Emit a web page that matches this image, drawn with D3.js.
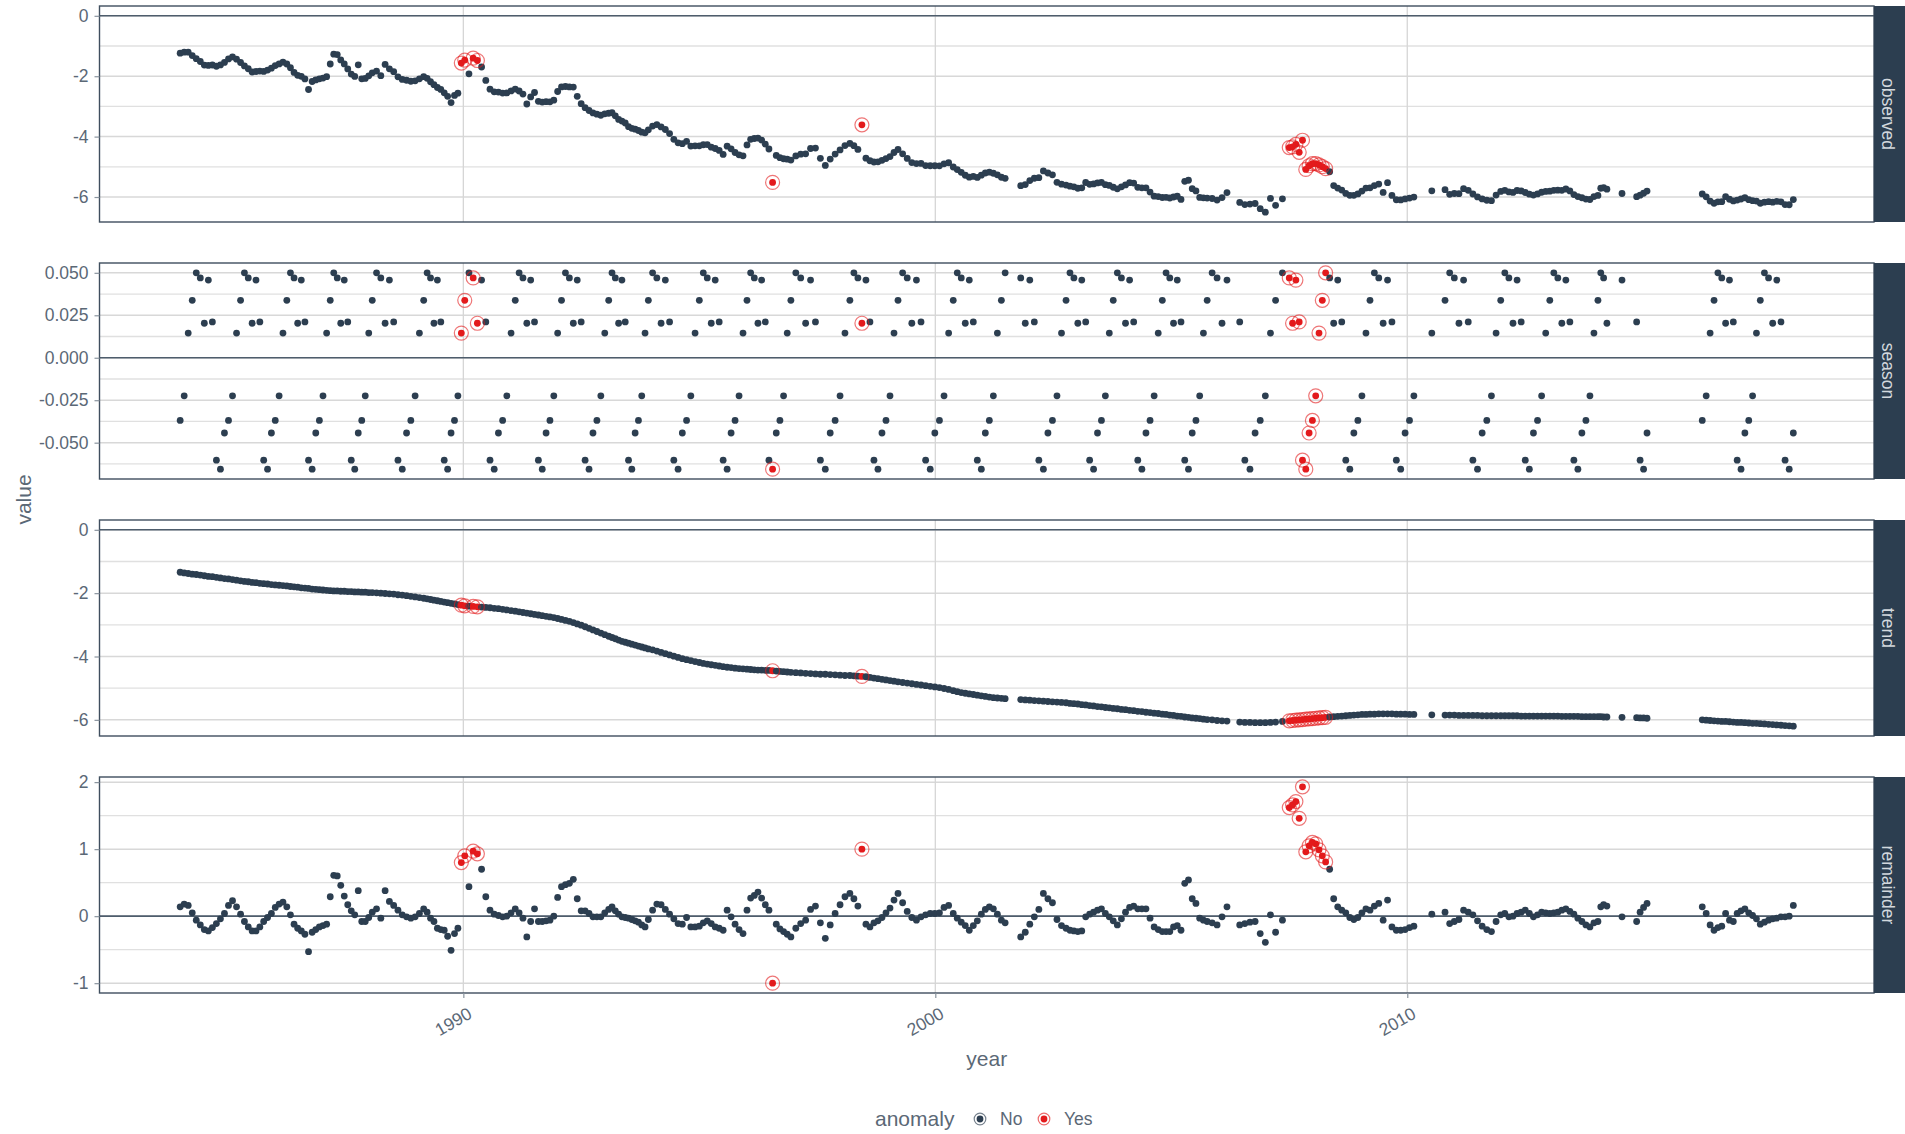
<!DOCTYPE html>
<html>
<head>
<meta charset="utf-8">
<script src="https://cdn.jsdelivr.net/npm/d3@7"></script>
<style>
  html, body { margin: 0; padding: 0; background: #ffffff; }
  text { font-family: "Liberation Sans", Arial, sans-serif; }
</style>
</head>
<body>
<svg id="chart" width="1905" height="1134"></svg>
<script>
// ---- sampling dates: rows between two knots are evenly spaced in time ----
const knotRow  = [0, 15, 27, 39, 51, 63, 75, 87, 99, 111, 123, 135, 147, 159, 171, 183, 195, 207, 208, 209,
                  219, 231, 243, 255, 259, 260, 267, 269, 280, 291, 301, 302, 303, 315, 327, 339, 340, 341,
                  342, 343, 344, 347, 348, 351, 363, 371];
const knotYear = [1984.00, 1985.28, 1986.26, 1987.18, 1988.07, 1989.16, 1990.03, 1991.10, 1992.08, 1993.08,
                  1993.92, 1995.00, 1996.01, 1996.94, 1998.19, 1999.21, 2000.38, 2001.40, 2001.48, 2001.81,
                  2002.77, 2003.77, 2004.81, 2005.76, 2006.18, 2006.45, 2007.21, 2007.50, 2008.27, 2009.21,
                  2010.14, 2010.52, 2010.80, 2011.98, 2013.02, 2014.04, 2014.10, 2014.16, 2014.23, 2014.55,
                  2014.86, 2015.08, 2016.25, 2016.50, 2017.48, 2018.18];

// ---- seasonal component: one value per position in the 12-step cycle ----
const seasonCycle = [-0.0369, -0.0224, 0.0145, 0.0338, 0.0500, 0.0470, 0.0203, 0.0457, 0.0211, -0.0603, -0.0656, -0.0443];

// ---- trend component, one value per row ----
const trendValues = [
  -1.34,-1.36,-1.38,-1.40,-1.41,-1.43,-1.45,-1.47,-1.48,-1.50,-1.52,-1.54,
  -1.55,-1.57,-1.59,-1.61,-1.63,-1.64,-1.66,-1.67,-1.69,-1.70,-1.71,-1.73,
  -1.74,-1.75,-1.76,-1.77,-1.79,-1.80,-1.81,-1.83,-1.84,-1.85,-1.87,-1.88,
  -1.89,-1.90,-1.91,-1.92,-1.93,-1.93,-1.94,-1.94,-1.95,-1.95,-1.96,-1.96,
  -1.97,-1.97,-1.98,-1.98,-1.99,-2.00,-2.01,-2.02,-2.03,-2.05,-2.06,-2.08,
  -2.10,-2.12,-2.14,-2.16,-2.18,-2.20,-2.22,-2.24,-2.26,-2.28,-2.30,-2.32,
  -2.34,-2.36,-2.38,-2.40,-2.41,-2.42,-2.43,-2.44,-2.45,-2.46,-2.48,-2.49,
  -2.51,-2.53,-2.55,-2.57,-2.59,-2.61,-2.63,-2.65,-2.67,-2.69,-2.71,-2.73,
  -2.75,-2.77,-2.80,-2.83,-2.86,-2.89,-2.93,-2.97,-3.01,-3.06,-3.11,-3.16,
  -3.21,-3.26,-3.31,-3.36,-3.40,-3.44,-3.48,-3.52,-3.55,-3.58,-3.61,-3.64,
  -3.67,-3.70,-3.73,-3.76,-3.79,-3.83,-3.87,-3.91,-3.95,-3.99,-4.03,-4.07,
  -4.10,-4.13,-4.16,-4.19,-4.22,-4.24,-4.26,-4.28,-4.30,-4.32,-4.34,-4.35,
  -4.37,-4.38,-4.39,-4.40,-4.41,-4.42,-4.43,-4.43,-4.44,-4.44,-4.45,-4.46,
  -4.47,-4.48,-4.49,-4.50,-4.51,-4.52,-4.53,-4.54,-4.55,-4.56,-4.56,-4.57,
  -4.58,-4.59,-4.60,-4.60,-4.61,-4.62,-4.63,-4.64,-4.66,-4.68,-4.70,-4.72,
  -4.74,-4.76,-4.78,-4.80,-4.82,-4.84,-4.86,-4.88,-4.90,-4.92,-4.94,-4.96,
  -4.98,-5.01,-5.04,-5.08,-5.11,-5.14,-5.16,-5.18,-5.20,-5.22,-5.24,-5.26,
  -5.28,-5.30,-5.31,-5.32,-5.33,-5.36,-5.37,-5.38,-5.39,-5.40,-5.41,-5.42,
  -5.43,-5.44,-5.45,-5.46,-5.48,-5.49,-5.50,-5.52,-5.53,-5.55,-5.56,-5.58,
  -5.59,-5.61,-5.62,-5.64,-5.65,-5.67,-5.68,-5.70,-5.71,-5.73,-5.74,-5.76,
  -5.77,-5.79,-5.80,-5.82,-5.83,-5.85,-5.86,-5.88,-5.89,-5.91,-5.92,-5.94,
  -5.95,-5.96,-5.98,-5.99,-6.00,-6.02,-6.03,-6.04,-6.07,-6.08,-6.08,-6.09,
  -6.09,-6.09,-6.08,-6.07,-6.05,-6.03,-6.02,-6.01,-6.00,-5.99,-5.98,-5.97,
  -5.96,-5.95,-5.94,-5.93,-5.92,-5.91,-5.90,-5.89,-5.88,-5.87,-5.86,-5.85,
  -5.84,-5.83,-5.83,-5.82,-5.82,-5.81,-5.81,-5.81,-5.81,-5.82,-5.82,-5.82,
  -5.83,-5.83,-5.84,-5.85,-5.85,-5.85,-5.86,-5.86,-5.86,-5.86,-5.86,-5.87,
  -5.87,-5.87,-5.87,-5.87,-5.87,-5.87,-5.87,-5.87,-5.88,-5.88,-5.88,-5.88,
  -5.88,-5.88,-5.88,-5.88,-5.88,-5.88,-5.89,-5.89,-5.89,-5.89,-5.89,-5.90,
  -5.90,-5.90,-5.90,-5.90,-5.90,-5.91,-5.91,-5.92,-5.93,-5.94,-5.94,-5.95,
  -6.00,-6.01,-6.02,-6.03,-6.04,-6.05,-6.05,-6.06,-6.07,-6.08,-6.08,-6.09,
  -6.10,-6.11,-6.11,-6.12,-6.13,-6.14,-6.15,-6.16,-6.17,-6.18,-6.19,-6.20
];

// ---- remainder component, one value per row ----
const remainderValues = [
   0.14, 0.18, 0.16, 0.05,-0.06,-0.13,-0.20,-0.22,-0.17,-0.11,-0.04, 0.04,
   0.16, 0.23, 0.14, 0.03,-0.08,-0.16,-0.22,-0.22,-0.16,-0.08,-0.02, 0.04,
   0.13, 0.18, 0.21, 0.14, 0.02,-0.12,-0.18,-0.22,-0.27,-0.53,-0.24,-0.20,
  -0.16,-0.14,-0.12, 0.29, 0.61, 0.60, 0.46, 0.30, 0.17, 0.08, 0.02, 0.38,
  -0.08,-0.08,-0.02, 0.06, 0.11,-0.03, 0.38, 0.22, 0.16, 0.09, 0.02,-0.01,
  -0.03,-0.01, 0.04, 0.11, 0.06,-0.03,-0.08,-0.18,-0.20,-0.21,-0.30,-0.51,
  -0.26,-0.18, 0.80, 0.90, 0.44, 0.97, 0.93, 0.70, 0.29, 0.09, 0.03, 0.01,
  -0.01, 0.00, 0.05, 0.11, 0.05,-0.03,-0.31,-0.08, 0.11,-0.08,-0.08,-0.07,
  -0.06, 0.00, 0.28, 0.44, 0.47, 0.49, 0.55, 0.26, 0.08, 0.08, 0.04,-0.01,
  -0.01,-0.01, 0.05, 0.10, 0.14, 0.08, 0.03,-0.01,-0.02,-0.03,-0.05,-0.07,
  -0.09,-0.13,-0.16,-0.05, 0.09, 0.18, 0.17, 0.10, 0.03,-0.04,-0.11,-0.12,
  -0.02,-0.16,-0.16,-0.15,-0.10,-0.07,-0.11,-0.16,-0.18,-0.21, 0.09,-0.01,
  -0.12,-0.20,-0.26, 0.09, 0.27, 0.31, 0.36, 0.27, 0.17, 0.09,-1.00,-0.12,
  -0.19,-0.23,-0.27,-0.31,-0.18,-0.11,-0.06, 0.10, 0.15,-0.10,-0.33,-0.13,
   0.04, 0.17, 0.29, 0.34, 0.26, 0.15, 1.00,-0.12,-0.16,-0.10,-0.07,-0.02,
   0.05, 0.12, 0.24, 0.34, 0.20, 0.07,-0.02,-0.06,-0.01, 0.02, 0.04, 0.04,
   0.05, 0.13, 0.16, 0.04,-0.03,-0.09,-0.14,-0.21,-0.14,-0.07, 0.03, 0.10,
   0.14, 0.11, 0.03,-0.06,-0.10,-0.31,-0.24,-0.12,-0.01, 0.10, 0.34, 0.26,
   0.20,-0.05,-0.14,-0.18,-0.21,-0.22,-0.23,-0.22,-0.01, 0.03, 0.06, 0.09,
   0.11, 0.04,-0.01,-0.07,-0.13,-0.04, 0.06, 0.13, 0.15, 0.11, 0.11, 0.11,
  -0.03,-0.16,-0.20,-0.23,-0.23,-0.23,-0.16,-0.14,-0.21, 0.49, 0.54, 0.26,
   0.19,-0.03,-0.06,-0.08,-0.10,-0.13,-0.01, 0.14,-0.13,-0.11,-0.09,-0.08,
  -0.26,-0.39, 0.02,-0.24,-0.06, 1.62, 1.66, 1.71, 1.46, 1.93, 0.96, 1.05,
   1.10, 1.08, 0.99, 0.90, 0.81, 0.70, 0.26, 0.14, 0.09, 0.05,-0.02,-0.05,
  -0.02, 0.05, 0.11, 0.09, 0.15, 0.19,-0.06, 0.24,-0.16,-0.21,-0.21,-0.20,
  -0.17,-0.15, 0.03, 0.06,-0.11,-0.08,-0.05, 0.09, 0.06, 0.02,-0.07,-0.15,
  -0.20,-0.23,-0.08, 0.02, 0.04,-0.01, 0.00, 0.04, 0.06, 0.09, 0.04,-0.01,
   0.02, 0.06, 0.05, 0.04, 0.05, 0.06, 0.09, 0.11, 0.07, 0.03,-0.03,-0.08,
  -0.13,-0.16,-0.10,-0.08, 0.14, 0.17, 0.15,-0.01,-0.08, 0.06, 0.13, 0.19,
   0.14, 0.04,-0.13,-0.21,-0.17,-0.15, 0.04,-0.06,-0.08, 0.04, 0.08, 0.11,
   0.05, 0.01,-0.04,-0.12,-0.09,-0.06,-0.04,-0.03,-0.01,-0.01, 0.00, 0.16
];

// ---- rows flagged as anomalies ----
const anomalyRows = [74, 75, 77, 78, 154, 174, 269, 270, 271, 272, 273, 274, 275, 276, 277, 278, 279, 280];

// ---- facets and axis ticks ----
const facetNames = ["observed", "season", "trend", "remainder"];
const observedTicks  = [0, -2, -4, -6];
const observedMinor  = [-1, -3, -5];
const seasonTicks    = [0.05, 0.025, 0, -0.025, -0.05];
const seasonMinor    = [0.0375, 0.0125, -0.0125, -0.0375, -0.0625];
const trendTicks     = [0, -2, -4, -6];
const trendMinor     = [-1, -3, -5];
const remainderTicks = [2, 1, 0, -1];
const remainderMinor = [1.5, 0.5, -0.5];
const yearTicks      = [1990, 2000, 2010];
const legendLevels   = ["No", "Yes"];

// ---- assemble the decomposition table ----
const dateOfRow = d3.scaleLinear().domain(knotRow).range(knotYear);
const anomalySet = new Set(anomalyRows);
const rows = trendValues.map((t, i) => {
  const season = seasonCycle[i % seasonCycle.length];
  const remainder = remainderValues[i];
  return {
    year: dateOfRow(i),
    season: season,
    trend: t,
    remainder: remainder,
    observed: t + season + remainder,   // observed = trend + season + remainder
    anomaly: anomalySet.has(i) ? "Yes" : "No"
  };
});

// ---- layout ----
const svg = d3.select("#chart");
const panelLeft = 99.5, panelRight = 1874, panelH = 216;
const panelTops = [6, 263, 520, 777];
const stripW = 31;
const colNo = "#2c3e50", colYes = "#e31a1c";
const textCol = "#5b6876";
const dotR = 3.4, ringR = 7;
const color = d3.scaleOrdinal().domain(legendLevels).range([colNo, colYes]);

const yearExtent = d3.extent(rows, d => d.year);
const xPad = (yearExtent[1] - yearExtent[0]) * 0.05;
const x = d3.scaleLinear()
  .domain([yearExtent[0] - xPad, yearExtent[1] + xPad])
  .range([panelLeft, panelRight]);

const tickSets = {
  observed:  { major: observedTicks,  minor: observedMinor,  fmt: v => String(v) },
  season:    { major: seasonTicks,    minor: seasonMinor,    fmt: v => v.toFixed(3) },
  trend:     { major: trendTicks,     minor: trendMinor,     fmt: v => String(v) },
  remainder: { major: remainderTicks, minor: remainderMinor, fmt: v => String(v) }
};

facetNames.forEach((name, fi) => {
  const top = panelTops[fi], bottom = top + panelH;
  const ext = d3.extent([0, ...rows.map(d => d[name])]);
  const pad = (ext[1] - ext[0]) * 0.05;
  const y = d3.scaleLinear().domain([ext[0] - pad, ext[1] + pad]).range([bottom, top]);
  const ticks = tickSets[name];
  const g = svg.append("g").attr("class", "facet-" + name);

  // grid
  g.selectAll("line.minor").data(ticks.minor).join("line")
    .attr("x1", panelLeft).attr("x2", panelRight)
    .attr("y1", d => y(d)).attr("y2", d => y(d))
    .attr("stroke", "#e0e0e0").attr("stroke-width", 1.3);
  g.selectAll("line.major").data(ticks.major).join("line")
    .attr("x1", panelLeft).attr("x2", panelRight)
    .attr("y1", d => y(d)).attr("y2", d => y(d))
    .attr("stroke", "#d8d8d8").attr("stroke-width", 1.5);
  g.selectAll("line.vgrid").data(yearTicks).join("line")
    .attr("x1", d => x(d)).attr("x2", d => x(d))
    .attr("y1", top).attr("y2", bottom)
    .attr("stroke", "#d6d6d6").attr("stroke-width", 1.3);

  // zero reference line
  g.append("line")
    .attr("x1", panelLeft).attr("x2", panelRight)
    .attr("y1", y(0)).attr("y2", y(0))
    .attr("stroke", "#4e5d6c").attr("stroke-width", 1.6);

  // points
  g.append("g").selectAll("circle").data(rows).join("circle")
    .attr("cx", d => x(d.year)).attr("cy", d => y(d[name]))
    .attr("r", dotR)
    .attr("fill", d => color(d.anomaly));
  g.append("g").selectAll("circle").data(rows.filter(d => d.anomaly === "Yes")).join("circle")
    .attr("cx", d => x(d.year)).attr("cy", d => y(d[name]))
    .attr("r", ringR)
    .attr("fill", "none")
    .attr("stroke", colYes).attr("stroke-width", 1.2).attr("stroke-opacity", 0.6);

  // panel border
  g.append("rect")
    .attr("x", panelLeft).attr("y", top)
    .attr("width", panelRight - panelLeft).attr("height", panelH)
    .attr("fill", "none").attr("stroke", "#3f4e5e").attr("stroke-width", 1.4);

  // strip
  g.append("rect")
    .attr("x", panelRight).attr("y", top)
    .attr("width", stripW).attr("height", panelH)
    .attr("fill", "#2c3e50");
  g.append("text")
    .attr("transform", `translate(${panelRight + 8},${top + panelH / 2}) rotate(90)`)
    .attr("text-anchor", "middle")
    .attr("fill", "#d3d8dd")
    .attr("font-size", 17.5)
    .text(name);

  // y axis
  const axisY = g.append("g")
    .attr("transform", `translate(${panelLeft},0)`)
    .call(d3.axisLeft(y).tickValues(ticks.major).tickFormat(ticks.fmt).tickSize(5).tickPadding(6));
  axisY.select(".domain").remove();
  axisY.selectAll(".tick line").attr("stroke", "#8a949e").attr("stroke-width", 1.2);
  axisY.selectAll(".tick text").attr("fill", textCol).attr("font-size", 17.5)
    .attr("font-family", "\"Liberation Sans\", Arial, sans-serif");

  // x axis under the last facet
  if (fi === facetNames.length - 1) {
    const axisX = g.append("g")
      .attr("transform", `translate(0,${bottom})`)
      .call(d3.axisBottom(x).tickValues(yearTicks).tickFormat(d3.format("d")).tickSize(5));
    axisX.select(".domain").remove();
    axisX.selectAll(".tick line").attr("stroke", "#8a949e").attr("stroke-width", 1.2);
    axisX.selectAll(".tick text")
      .attr("x", null).attr("y", null).attr("dy", null)
      .attr("transform", "translate(3,13) rotate(-30)")
      .attr("text-anchor", "end")
      .attr("dominant-baseline", "hanging")
      .attr("fill", textCol).attr("font-size", 17.5)
      .attr("font-family", "\"Liberation Sans\", Arial, sans-serif");
  }
});

// axis titles
const plotMid = (panelLeft + panelRight) / 2;
svg.append("text")
  .attr("x", plotMid).attr("y", 1066)
  .attr("text-anchor", "middle").attr("fill", textCol).attr("font-size", 21)
  .text("year");
svg.append("text")
  .attr("transform", `translate(31,${(panelTops[0] + panelTops[3] + panelH) / 2}) rotate(-90)`)
  .attr("text-anchor", "middle").attr("fill", textCol).attr("font-size", 21)
  .text("value");

// legend
const legend = svg.append("g").attr("class", "legend");
legend.append("text")
  .attr("x", 875).attr("y", 1126)
  .attr("fill", textCol).attr("font-size", 21)
  .text("anomaly");
const keyX = [980, 1044];
legendLevels.forEach((lvl, i) => {
  const k = legend.append("g").attr("transform", `translate(${keyX[i]},1119)`);
  k.append("circle").attr("r", 5.8).attr("fill", "none")
    .attr("stroke", color(lvl)).attr("stroke-width", 1.2).attr("stroke-opacity", 0.65);
  k.append("circle").attr("r", dotR).attr("fill", color(lvl));
  legend.append("text")
    .attr("x", keyX[i] + 20).attr("y", 1125)
    .attr("fill", textCol).attr("font-size", 17.5)
    .text(lvl);
});
</script>
</body>
</html>
